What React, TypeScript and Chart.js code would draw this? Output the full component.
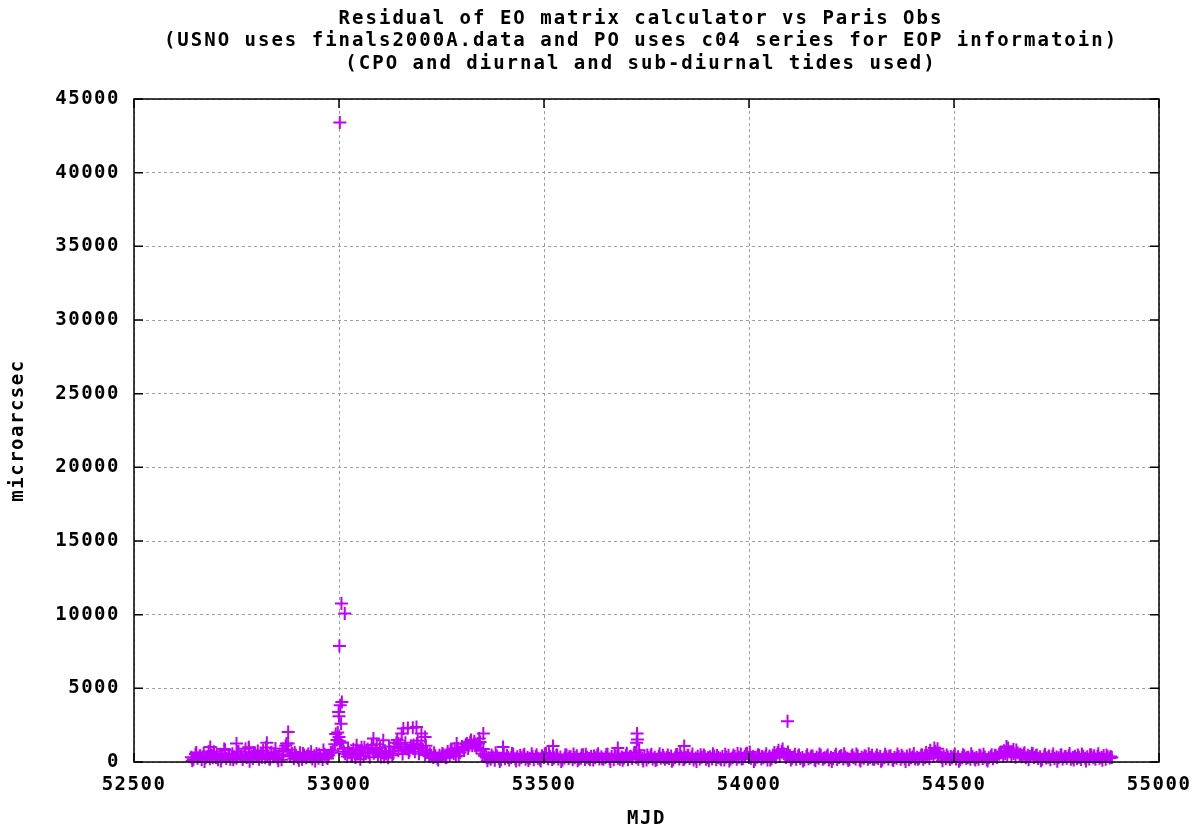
import React, { useEffect, useRef } from 'react';
import { Chart, registerables } from 'chart.js';

Chart.register(...registerables);

// ---- Title / axis text ----
const titleLines = [
  'Residual of EO matrix calculator vs Paris Obs',
  '(USNO uses finals2000A.data and PO uses c04 series for EOP informatoin)',
  '(CPO and diurnal and sub-diurnal tides used)',
];
const xAxisLabel = 'MJD';
const yAxisLabel = 'microarcsec';

// ---- Tick values ----
const xTickValues = [52500, 53000, 53500, 54000, 54500, 55000];
const yTickValues = [0, 5000, 10000, 15000, 20000, 25000, 30000, 35000, 40000, 45000];

// ---- Residual series, sampled every 5 days (MJD) ----
const sampleStepDays = 5;

const seg1StartMJD = 52640;
const seg1Values = [
  320, 180, 540, 260, 410, 150, 600, 290, 380, 220,
  470, 700, 310, 160, 520, 340, 880, 240, 450, 190,
  560, 330, 260, 720, 410, 170, 490, 300, 950, 360,
  230, 610, 420, 180, 530, 780, 290, 440, 200, 660,
  350, 910, 270, 480, 160, 720, 1100, 840, 390, 570,
  230, 450, 310, 620, 190, 480, 280, 540, 360, 210,
  430, 580, 250, 390, 170, 520, 300, 460, 620, 780,
];

const seg2StartMJD = 52990;
const seg2Values = [
  1200, 1500, 1700, 1300, 900, 560, 380, 620, 450, 860,
  300, 540, 720, 1000, 410, 650, 880, 330, 1150, 590,
  780, 460, 960, 620, 350, 540, 280, 720, 450, 980,
  1300, 760, 1200, 540, 1050, 880, 620, 1100, 940, 700,
  1250, 560, 1000, 830, 480, 650, 390, 460, 310, 420,
  260, 450, 380, 500, 290, 720, 440, 850, 560, 380,
  920, 640, 1050, 780, 1200, 920, 1350, 1100, 1400, 980,
  1250, 760, 560, 420, 300,
];

const seg3StartMJD = 53365;
const seg3Values = [
  280, 190, 340, 120, 410, 250, 160, 380, 220, 460,
  140, 300, 520, 210, 350, 130, 280, 440, 180, 320,
  240, 560, 150, 370, 260, 190, 430, 310, 600, 220,
  380, 170, 290, 450, 200, 340, 130, 270, 480, 230,
  360, 150, 310, 420, 190, 260, 500, 170, 330, 240,
  390, 140, 280, 460, 210, 350, 180, 300, 530, 220,
  370, 160, 410, 250, 190, 340, 270, 480, 150, 390,
  230, 620, 310, 180, 440, 260, 350, 140, 290, 420,
  200, 330, 170, 380, 250, 460, 190, 310, 230, 400,
  150, 280, 510, 210, 360, 170, 300, 440, 230, 340,
  130, 270, 390, 200, 320, 470, 180, 290, 360, 220,
  410, 160, 300, 250, 380, 140, 330, 450, 210, 280,
  370, 190, 320, 540, 240, 380, 600, 310,
];

const seg4StartMJD = 54005;
const seg4Values = [
  250, 380, 170, 320, 460, 200, 290, 350, 140, 410,
  230, 480, 300, 650, 380, 720, 560, 310, 680, 420,
  260, 350, 180, 410, 240, 300, 150, 370, 220, 290,
  400, 170, 330, 250, 460, 190, 280, 360, 140, 310,
  230, 390, 170, 300, 440, 200, 340, 260, 150, 380,
  290, 210, 420, 160, 330, 250, 370, 190, 300, 450,
  180, 320, 240, 390, 140, 280, 350, 210, 430, 170,
  300, 260, 380, 190, 340, 220, 410, 150, 290, 360,
  200, 330, 250, 470, 180, 310, 380, 240, 560, 420,
  720, 480, 610, 300, 380, 220, 340, 170, 290, 400,
  210, 350, 160, 280, 430, 240, 320, 190, 370, 260,
  300, 180, 410, 230, 340, 150, 280, 390, 220, 460,
  310, 520, 640, 380, 560, 450, 700, 400, 580, 330,
  620, 480, 360, 540, 280, 450, 380, 600, 300, 420,
  240, 350, 190, 400, 270, 320, 160, 380, 230, 340,
  290, 450, 200, 360, 250, 420, 180, 310, 390, 240,
  330, 170, 400, 260, 350, 210, 470, 290, 180, 380,
  250, 320, 440, 190, 360, 270, 300,
];

// ---- Interleaved samples, every 10 days starting 52642 ----
const interStepDays = 10;
const interStartMJD = 52642;
const interValues = [
  90, 640, 420, 30, 710, 280, 560, 60, 820, 470,
  150, 690, 380, 900, 50, 610, 740, 320, 980, 200,
  560, 80, 760, 1250, 430, 650, 120, 580, 390, 700,
  60, 520, 810, 240, 640, 1900, 1400, 700, 950, 420,
  820, 180, 1000, 630, 900, 1200, 340, 760, 1050, 580,
  1500, 920, 1300, 760, 1150, 1450, 880, 1100, 560, 620,
  140, 580, 300, 760, 900, 420, 1000, 1250, 1500, 1150,
  1600, 880, 90, 480, 620, 40, 520, 300, 580, 70,
  450, 520, 110, 380, 500, 60, 540, 600, 250, 480,
  30, 500, 350, 540, 80, 470, 520, 150, 400, 560,
  220, 510, 40, 530, 430, 120, 600, 350, 650, 800,
  60, 480, 520, 100, 560, 300, 470, 50, 500, 620,
  200, 450, 540, 30, 500, 380, 90, 560, 440, 150,
  520, 70, 480, 580, 210, 550, 680, 40, 500, 380,
  560, 130, 650, 800, 880, 380, 140, 520, 470, 60,
  500, 400, 90, 540, 250, 470, 30, 520, 380, 560,
  120, 480, 540, 60, 430, 560, 200, 480, 50, 520,
  390, 110, 540, 460, 40, 500, 580, 180, 470, 650,
  800, 950, 560, 90, 480, 380, 540, 50, 500, 300,
  560, 140, 470, 520, 70, 500, 420, 620, 760, 950,
  700, 820, 540, 620, 160, 560, 480, 80, 520, 410,
  540, 50, 500, 380, 580, 130, 470, 540, 60, 500,
  430, 560, 120, 480, 380,
];

// ---- Outlying points (MJD, microarcsec) ----
const outlierMJD = [
  52686, 52750, 52780, 52824, 52876, 52876, 53002, 53006, 53014, 53001,
  53007, 53003, 52999, 53000, 53005, 52997, 53043, 53084, 53108, 53145,
  53153, 53157, 53168, 53180, 53189, 53201, 53210, 53287, 53344, 53352,
  53400, 53522, 53680, 53726, 53727, 53728, 53842, 54094, 54460, 54628,
  54645,
];
const outlierValues = [
  1020, 1250, 1000, 1300, 2040, 1250, 43400, 10760, 10080, 7880,
  4080, 3850, 3400, 3100, 2600, 2000, 1130, 1590, 1470, 1250,
  1930, 2270, 2300, 2320, 2380, 1930, 1700, 1250, 1360, 1930,
  1020, 1090, 950, 1300, 1930, 1520, 1090, 2770, 900, 1050,
  850,
];

const segments: Array<[number, number, number[]]> = [
  [seg1StartMJD, sampleStepDays, seg1Values],
  [seg2StartMJD, sampleStepDays, seg2Values],
  [seg3StartMJD, sampleStepDays, seg3Values],
  [seg4StartMJD, sampleStepDays, seg4Values],
  [interStartMJD, interStepDays, interValues],
];

const MONO = '"DejaVu Sans Mono", "Liberation Mono", monospace';
const POINT_COLOR = '#c000ff';

export default function App() {
  const canvasRef = useRef<HTMLCanvasElement | null>(null);

  useEffect(() => {
    document.body.style.margin = '0';
    const canvas = canvasRef.current;
    if (!canvas) return;

    const bandData: { x: number; y: number }[] = [];
    segments.forEach(([start, step, vals]) => {
      vals.forEach((v, i) => bandData.push({ x: start + i * step, y: v }));
    });
    const outlierData = outlierMJD.map((m, i) => ({ x: m, y: outlierValues[i] }));

    const spacingPlugin = {
      id: 'letterSpacing',
      beforeDraw(chart: any) {
        (chart.ctx as any).letterSpacing = '1.5px';
      },
      afterDraw(chart: any) {
        (chart.ctx as any).letterSpacing = '0px';
      },
    };

    const framePlugin = {
      id: 'gnuFrame',
      afterDatasetsDraw(chart: any) {
        const { ctx, chartArea, scales } = chart;
        const { left, right, top, bottom } = chartArea;
        ctx.save();
        ctx.strokeStyle = '#000';
        ctx.lineWidth = 1.5;
        ctx.setLineDash([]);
        ctx.strokeRect(left, top, right - left, bottom - top);
        const tl = 9;
        ctx.beginPath();
        xTickValues.forEach((v) => {
          const px = scales.x.getPixelForValue(v);
          ctx.moveTo(px, bottom);
          ctx.lineTo(px, bottom - tl);
          ctx.moveTo(px, top);
          ctx.lineTo(px, top + tl);
        });
        yTickValues.forEach((v) => {
          const py = scales.y.getPixelForValue(v);
          ctx.moveTo(left, py);
          ctx.lineTo(left + tl, py);
          ctx.moveTo(right, py);
          ctx.lineTo(right - tl, py);
        });
        ctx.stroke();
        ctx.restore();
      },
    };

    const titlePlugin = {
      id: 'gnuTitle',
      afterDraw(chart: any) {
        const ctx = chart.ctx;
        ctx.save();
        (ctx as any).letterSpacing = '2px';
        ctx.font = `bold 19px ${MONO}`;
        ctx.fillStyle = '#000';
        ctx.textAlign = 'center';
        ctx.textBaseline = 'middle';
        titleLines.forEach((t, i) => ctx.fillText(t, 641, 19 + i * 22.5));
        ctx.restore();
      },
    };

    const tickFont = { family: MONO, weight: 'bold' as const, size: 19 };

    const pointStyleOpts = {
      showLine: false,
      pointStyle: 'cross' as const,
      pointRadius: 6.5,
      pointHoverRadius: 6.5,
      pointBorderWidth: 2,
      borderColor: POINT_COLOR,
      backgroundColor: POINT_COLOR,
      clip: false as any,
    };

    const chart = new Chart(canvas, {
      type: 'scatter',
      data: {
        datasets: [
          { data: bandData, ...pointStyleOpts },
          { data: outlierData, ...pointStyleOpts },
        ],
      },
      options: {
        responsive: false,
        animation: false,
        events: [],
        layout: { padding: { top: 99, right: 45, left: 0, bottom: 0 } },
        plugins: {
          legend: { display: false },
          title: { display: false },
          tooltip: { enabled: false },
        },
        scales: {
          x: {
            type: 'linear',
            min: 52500,
            max: 55000,
            afterBuildTicks: (s: any) => {
              s.ticks = xTickValues.map((v) => ({ value: v }));
            },
            afterFit: (s: any) => {
              s.height = 69;
            },
            ticks: {
              color: '#000',
              font: tickFont,
              padding: 12,
              maxRotation: 0,
              autoSkip: false,
              callback: (v: any) => String(v),
            },
            grid: { color: '#a0a0a0', lineWidth: 1, drawTicks: false },
            border: { display: false, dash: [3, 3] },
            title: {
              display: true,
              text: xAxisLabel,
              color: '#000',
              font: tickFont,
              padding: { top: 0, bottom: 1 },
            },
          },
          y: {
            type: 'linear',
            min: 0,
            max: 45000,
            afterBuildTicks: (s: any) => {
              s.ticks = yTickValues.map((v) => ({ value: v }));
            },
            afterFit: (s: any) => {
              s.width = 134;
            },
            ticks: {
              color: '#000',
              font: tickFont,
              padding: 14,
              autoSkip: false,
              callback: (v: any) => String(v),
            },
            grid: { color: '#a0a0a0', lineWidth: 1, drawTicks: false },
            border: { display: false, dash: [3, 3] },
            title: {
              display: true,
              text: yAxisLabel,
              color: '#000',
              font: tickFont,
              padding: { top: 7, bottom: 0 },
            },
          },
        },
      },
      plugins: [spacingPlugin, framePlugin, titlePlugin],
    });

    return () => chart.destroy();
  }, []);

  return (
    <div style={{ width: 1204, height: 831, background: '#fff' }}>
      <canvas ref={canvasRef} width={1204} height={831} style={{ display: 'block' }} />
    </div>
  );
}
